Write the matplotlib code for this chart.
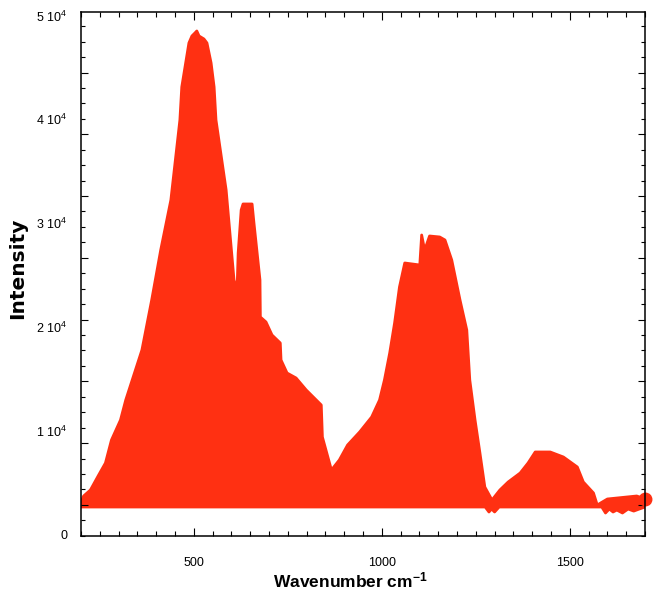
import matplotlib
matplotlib.use('Agg')
import matplotlib.pyplot as plt
import numpy as np

plt.rcParams['font.family'] = ['Liberation Sans', 'DejaVu Sans']
plt.rcParams['mathtext.default'] = 'regular'

# upper edge of the spectrum (wavenumber, intensity)
wn_up = [200, 207, 225, 247, 265, 281, 305, 319, 362, 388, 412, 439, 463, 468,
         487, 495, 503, 508, 514, 527, 535, 546, 554, 559, 586, 607, 615, 618,
         626, 631, 655, 660, 676, 677, 692, 708, 730, 732, 748, 772, 799, 839,
         842, 866, 887, 909, 941, 973, 994, 1007, 1021, 1034, 1047, 1061, 1101,
         1106, 1114, 1127, 1154, 1168, 1186, 1208, 1226, 1234, 1248, 1261, 1274,
         1293, 1314, 1336, 1368, 1389, 1408, 1448, 1483, 1520, 1536, 1563, 1573,
         1600, 1678, 1700]
int_up = [3276, 3854, 4432, 5877, 7033, 9249, 11175, 13102, 17919, 22736, 27553,
          32370, 40077, 43257, 47496, 48170, 48459, 48652, 48170, 47881, 47496,
          45569, 43257, 40077, 33334, 24663, 23700, 27264, 31407, 31985, 31985,
          30154, 24663, 21098, 20617, 19364, 18594, 16956, 15703, 15222, 14066,
          12621, 9538, 6358, 7322, 8767, 10019, 11464, 13102, 15029, 17630, 20520,
          23989, 26301, 26108, 28998, 27553, 28902, 28806, 28517, 26590, 22736,
          19846, 15029, 11175, 7996, 4721, 3468, 4432, 5202, 6069, 7033, 8093,
          8093, 7611, 6647, 5202, 4143, 2987, 3565, 3854, 3565]

# lower edge (baseline with noise dips)
wn_low = [200, 1275, 1285, 1292, 1300, 1312, 1585, 1595, 1605, 1615, 1625, 1640,
          1655, 1670, 1685, 1700]
int_low = [2794, 2794, 2312, 2600, 2312, 2794, 2794, 2216, 2600, 2312, 2500, 2216,
           2600, 2400, 2600, 2794]

ylabels = [0, 1, 2, 3, 4, 5]
red = '#ff3012'

fig = plt.figure(figsize=(6.53, 5.94), dpi=100)
ax = fig.add_axes([81/653, 58/594, 564/653, 524/594])

xs = np.concatenate([wn_up, wn_low[::-1]])
ys = np.concatenate([int_up, int_low[::-1]])
ax.fill(xs, ys, color=red, lw=2, joinstyle='round')
ax.plot(wn_up[-1:], int_up[-1:], 'o', ms=9, color=red, clip_on=False)

ax.set_xlim(200, 1700)
ax.set_ylim(0, 50480)

# x ticks
ax.set_xticks([500, 1000, 1500])
ax.set_xticks(np.arange(200, 1701, 50), minor=True)
ax.tick_params(axis='x', which='both', direction='in', top=True, labelsize=9,
               pad=15)
ax.tick_params(axis='x', which='major', length=5.5, width=0.8)
ax.tick_params(axis='x', which='minor', length=3.5, width=0.8)

# y tick marks (unlabelled), labels drawn as text
ax.set_yticks(np.arange(3000, 50000, 5950))
ax.set_yticks(np.arange(25, 50480, 1487.5), minor=True)
ax.tick_params(axis='y', which='both', direction='in', right=True, labelleft=False)
ax.tick_params(axis='y', which='major', length=5, width=0.8)
ax.tick_params(axis='y', which='minor', length=3, width=0.8)
for k in ylabels:
    txt = '0' if k == 0 else f'{k} 10$^4$'
    ax.text(-0.024, k * 10000, txt, transform=ax.get_yaxis_transform(),
            ha='right', va='center', fontsize=9)

for s in ax.spines.values():
    s.set_linewidth(1.1)

ax.set_xlabel('Wavenumber cm$^{-1}$', fontsize=12.5, fontweight='bold')
ax.xaxis.set_label_coords((350 - 81) / 564, -34 / 524)
ax.set_ylabel('Intensity', fontsize=14.5, fontweight='bold', family='DejaVu Sans')
ax.yaxis.set_label_coords(-54 / 564, (536 - 268) / 524)

fig.savefig('out.png', dpi=100)
